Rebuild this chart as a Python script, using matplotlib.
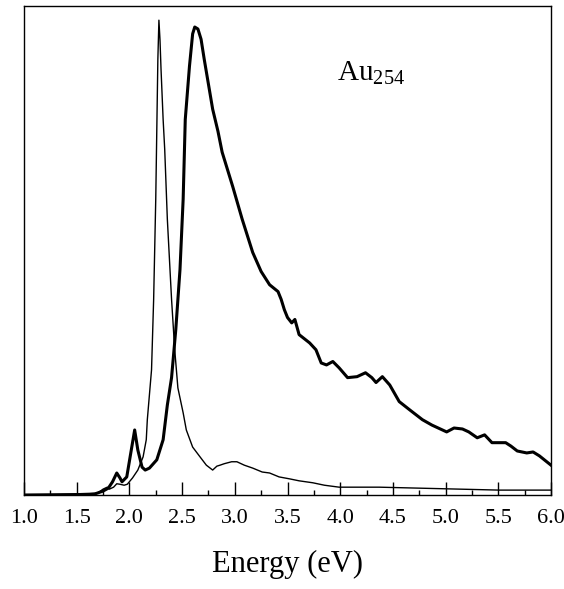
import matplotlib
matplotlib.use("Agg")
import matplotlib.pyplot as plt
from matplotlib.ticker import MultipleLocator

# Thick curve (broad plasmon peak)
thick_E = [1.00, 1.53, 1.67, 1.75, 1.80, 1.84, 1.88, 1.91, 1.93, 1.975, 2.01, 2.05, 2.08, 2.12,
           2.15, 2.19, 2.26, 2.32, 2.36, 2.40, 2.44, 2.48, 2.51, 2.53, 2.57, 2.60, 2.62, 2.65,
           2.68, 2.71, 2.75, 2.79, 2.84, 2.88, 2.98, 3.07, 3.17, 3.25, 3.33, 3.41, 3.44, 3.47,
           3.50, 3.54, 3.57, 3.61, 3.71, 3.77, 3.82, 3.87, 3.93, 3.99, 4.07, 4.16, 4.24, 4.30,
           4.34, 4.40, 4.47, 4.56, 4.66, 4.78, 4.87, 5.01, 5.08, 5.16, 5.22, 5.30, 5.37, 5.44,
           5.57, 5.62, 5.68, 5.77, 5.83, 5.89, 6.00]
thick_I = [0.000, 0.001, 0.002, 0.008, 0.014, 0.027, 0.045, 0.035, 0.027, 0.037, 0.082, 0.133, 0.092, 0.057,
           0.051, 0.055, 0.072, 0.113, 0.184, 0.240, 0.338, 0.461, 0.605, 0.768, 0.877, 0.943, 0.957, 0.953,
           0.932, 0.891, 0.840, 0.789, 0.744, 0.701, 0.631, 0.564, 0.496, 0.457, 0.430, 0.416, 0.400, 0.379,
           0.363, 0.352, 0.359, 0.328, 0.311, 0.297, 0.270, 0.266, 0.273, 0.260, 0.240, 0.242, 0.250, 0.240,
           0.230, 0.242, 0.225, 0.191, 0.174, 0.154, 0.143, 0.129, 0.137, 0.135, 0.129, 0.117, 0.123, 0.107,
           0.107, 0.100, 0.090, 0.086, 0.088, 0.080, 0.061]

# Thin curve (sharp peak)
thin_E = [1.00, 1.53, 1.70, 1.75, 1.79, 1.81, 1.85, 1.88, 1.91, 1.95, 1.98, 2.03, 2.08, 2.13, 2.16,
          2.17, 2.19, 2.21, 2.23, 2.25, 2.26, 2.27, 2.28, 2.29, 2.30, 2.32, 2.335, 2.36, 2.40, 2.43,
          2.46, 2.51, 2.54, 2.60, 2.67, 2.73, 2.79, 2.83, 2.86, 2.90, 2.97, 3.02, 3.09, 3.17, 3.26,
          3.33, 3.42, 3.52, 3.61, 3.74, 3.85, 3.99, 4.37, 4.75, 5.13, 5.51, 6.00]
thin_I = [0.000, 0.001, 0.004, 0.012, 0.016, 0.012, 0.016, 0.023, 0.022, 0.020, 0.022, 0.035, 0.051, 0.078, 0.113,
          0.154, 0.205, 0.256, 0.400, 0.605, 0.748, 0.891, 0.971, 0.932, 0.871, 0.768, 0.707, 0.564, 0.400, 0.297,
          0.219, 0.168, 0.133, 0.098, 0.078, 0.061, 0.051, 0.059, 0.061, 0.064, 0.068, 0.068, 0.061, 0.055, 0.047,
          0.045, 0.037, 0.033, 0.029, 0.025, 0.020, 0.016, 0.016, 0.014, 0.012, 0.010, 0.010]

xticks = [1.0, 1.5, 2.0, 2.5, 3.0, 3.5, 4.0, 4.5, 5.0, 5.5, 6.0]
xtick_labels = ["1.0", "1.5", "2.0", "2.5", "3.0", "3.5", "4.0", "4.5", "5.0", "5.5", "6.0"]

plt.rcParams['font.family'] = ['Liberation Serif', 'DejaVu Serif']
plt.rcParams['mathtext.fontset'] = 'custom'
plt.rcParams['mathtext.rm'] = 'Liberation Serif'

fig = plt.figure(figsize=(5.64, 5.89), dpi=100)
ax = fig.add_axes([24/564, 1 - 495/589, (551 - 24)/564, (495 - 6)/589])

ax.plot(thick_E, thick_I, color='black', lw=2.2, solid_joinstyle='round')
ax.plot(thin_E, thin_I, color='black', lw=1.0, solid_joinstyle='round')

ax.set_xlim(1.0, 6.0)
ax.set_ylim(0, 1.0)
ax.set_xticks(xticks)
ax.set_xticklabels(xtick_labels)
ax.xaxis.set_minor_locator(MultipleLocator(0.25))
ax.tick_params(axis='x', which='major', direction='in', length=9.5, width=1.0, labelsize=16, pad=10)
ax.tick_params(axis='x', which='minor', direction='in', length=3.8, width=1.0)
ax.set_yticks([])
for s in ax.spines.values():
    s.set_linewidth(1.0)

ax.set_xlabel("Energy (eV)", fontsize=22, labelpad=16)

fig.text(337/564, 1 - 80/589, r"Au$_{\mathrm{254}}$", fontsize=21, ha='left', va='baseline')

fig.savefig("out.png", dpi=100)
